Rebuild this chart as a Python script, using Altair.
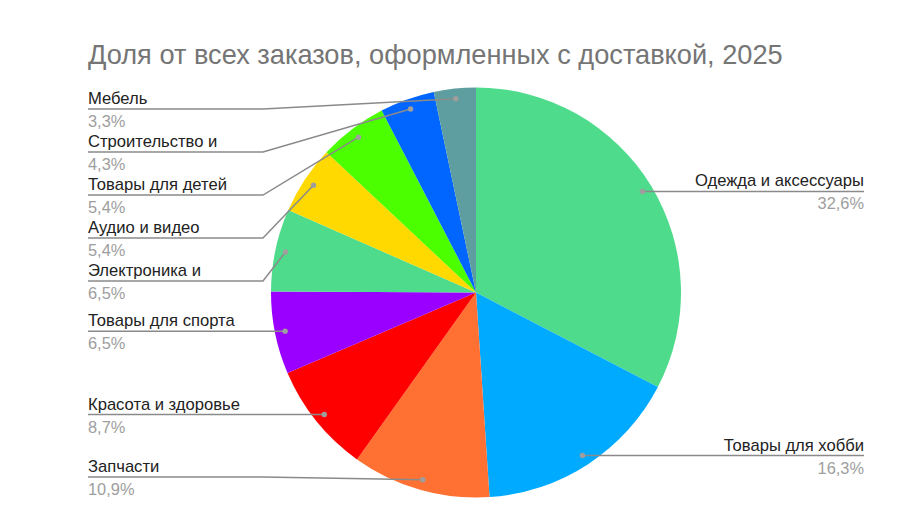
import math
import altair as alt
import pandas as pd

# ---- data ----
categories = [
    "Одежда и аксессуары", "Товары для хобби", "Запчасти", "Красота и здоровье",
    "Товары для спорта", "Электроника и", "Аудио и видео", "Товары для детей",
    "Строительство и", "Мебель",
]
shares = [32.6, 16.3, 10.9, 8.7, 6.5, 6.5, 5.4, 5.4, 4.3, 3.3]
colors = ["#4fdb8c", "#00aaff", "#ff7033", "#ff0000", "#9900ff",
          "#4fdb8c", "#ffd900", "#4cff00", "#0066ff", "#5f9ea0"]
title_text = "Доля от всех заказов, оформленных с доставкой, 2025"

# ---- layout constants (pixels) ----
W, H, PAD_TOP = 906, 431, 72
R = 205.0            # pie radius, px
CX, CY = 468.0, 212.5  # pie centre inside plot area, px
x_dom = [-CX / R, (W - CX) / R]
y_dom = [-(H - CY) / R, CY / R]
EDGE = 1.8927        # text edge (units of radius)
ELBOW = 1.039
DOT_R = 0.95
GAP = 43 / R
TOP_LIM = 0.895
BOT_LIM = -0.90
FONT = "Liberation Sans"

# ---- derived tables ----
total = sum(shares)
cum = 0.0
rows = []
for i, (c, v) in enumerate(zip(categories, shares)):
    a = (cum + v / 2) / total * 2 * math.pi
    cum += v
    dx, dy = DOT_R * math.sin(a), DOT_R * math.cos(a)
    rows.append(dict(name=c, value=v, idx=i, dx=dx, dy=dy,
                     side="right" if dx > 0 else "left",
                     pct=f"{v:.1f}".replace(".", ",") + "%"))
df = pd.DataFrame(rows)
df["ly"] = df["dy"]
left = df[df.side == "left"].sort_values("dy", ascending=False)
prev = None
for k in left.index:
    y = min(df.at[k, "dy"], TOP_LIM if prev is None else prev - GAP)
    y = max(y, BOT_LIM)
    df.at[k, "ly"] = y
    prev = y
df["lx"] = df["side"].map({"left": -EDGE, "right": EDGE})

pts = []
for rec in df.to_dict("records"):
    s = 1 if rec["side"] == "right" else -1
    pts.append(dict(name=rec["name"], pt=0, x=rec["dx"], y=rec["dy"]))
    pts.append(dict(name=rec["name"], pt=1, x=s * ELBOW, y=rec["ly"]))
    pts.append(dict(name=rec["name"], pt=2, x=s * EDGE, y=rec["ly"]))
lines = pd.DataFrame(pts)

xs = alt.Scale(domain=x_dom, nice=False, zero=False)
ys = alt.Scale(domain=y_dom, nice=False, zero=False)

pie = alt.Chart(df).mark_arc(radius=R).encode(
    x=alt.X(datum=0.0, scale=xs, axis=None),
    y=alt.Y(datum=0.0, scale=ys, axis=None),
    theta=alt.Theta("value:Q", stack=True),
    order=alt.Order("idx:Q"),
    color=alt.Color("name:N", scale=alt.Scale(domain=categories, range=colors), legend=None),
)

lead = alt.Chart(lines).mark_line(color="#8a8a8a", strokeWidth=1.5).encode(
    x=alt.X("x:Q", scale=xs, axis=None),
    y=alt.Y("y:Q", scale=ys, axis=None),
    detail="name:N",
    order="pt:Q",
)

dots = alt.Chart(df).mark_circle(size=30, color="#9e9e9e", opacity=1).encode(
    x=alt.X("dx:Q", scale=xs, axis=None),
    y=alt.Y("dy:Q", scale=ys, axis=None),
)

def texts(side, align):
    base = alt.Chart(df).transform_filter(alt.datum.side == side)
    name = base.mark_text(align=align, baseline="alphabetic", dy=-5, fontSize=16.6,
                          font=FONT, color="#222222").encode(
        x=alt.X("lx:Q", scale=xs, axis=None),
        y=alt.Y("ly:Q", scale=ys, axis=None),
        text="name:N",
    )
    pct = base.mark_text(align=align, baseline="alphabetic", dy=18, fontSize=16.4,
                         font=FONT, color="#9e9e9e").encode(
        x=alt.X("lx:Q", scale=xs, axis=None),
        y=alt.Y("ly:Q", scale=ys, axis=None),
        text="pct:N",
    )
    return name + pct

chart = alt.layer(pie, lead, dots, texts("left", "left"), texts("right", "right")).properties(
    width=W, height=H,
    autosize=alt.AutoSizeParams(type="none"),
    padding={"left": 0, "top": PAD_TOP, "right": 0, "bottom": 0},
    title=alt.TitleParams(title_text, anchor="start", fontSize=27.2, font=FONT,
                          color="#757575", fontWeight="normal", dx=80, offset=10),
).configure_view(stroke=None)

chart.save("out.html", embed_options={"renderer": "svg", "actions": False})
